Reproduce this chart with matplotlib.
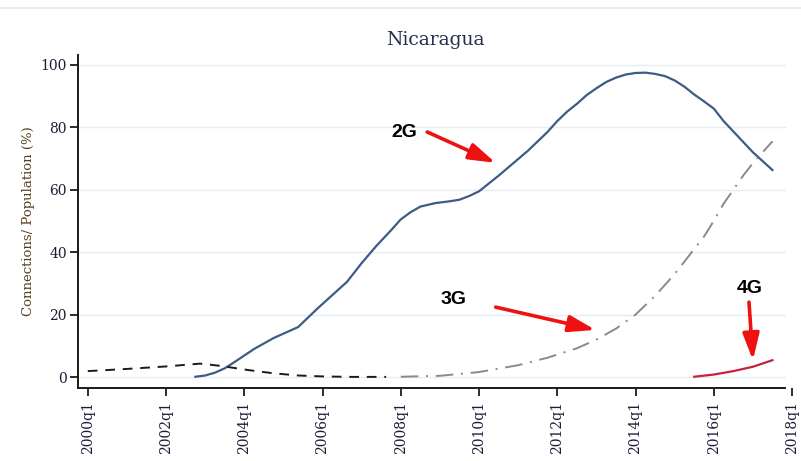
import matplotlib
matplotlib.use("Agg")
import matplotlib.pyplot as plt
import numpy as np

# quarters counted from 2000q1 = 0
q_2g = [11, 12, 13, 14, 15, 17, 19, 21.5, 23.5, 26.5, 28, 29.5, 31, 32, 33, 34, 35.5, 37, 38, 39, 40, 42,
        45, 47, 48, 49, 50, 51, 52, 53, 54, 55, 56, 57, 58, 59, 60, 61, 62, 63, 64, 65, 66.5, 68, 70]
v_2g = [0.1, 0.5, 1.4, 2.8, 4.8, 9, 12.5, 16, 22, 30.5, 36.5, 42, 47, 50.5, 52.8, 54.6, 55.7, 56.3, 56.8, 58, 59.5, 64.5,
        72.5, 78.5, 82, 85, 87.5, 90.3, 92.5, 94.5, 95.9, 96.9, 97.4, 97.5, 97.1, 96.4, 95, 93, 90.5, 88.3, 86, 82, 77, 72, 66.3]

q_old = [0, 4, 8, 11.5, 13.5, 16.5, 19, 21.5, 24, 27, 30.5]
v_old = [1.9, 2.6, 3.4, 4.3, 3.6, 2.2, 1.2, 0.5, 0.2, 0.05, 0.05]

q_3g = [32, 36, 40, 44, 47, 50, 52, 54, 56, 58, 59, 60, 61, 62, 63, 64, 65, 66, 67, 68, 69, 70]
v_3g = [0.1, 0.4, 1.6, 3.8, 6.2, 9.2, 12, 15.5, 20, 26, 29.5, 33, 37, 41, 45, 50,
        55.5, 60, 64.5, 68.5, 72, 75.5]

q_4g = [62, 64, 66, 68, 70]
v_4g = [0.1, 0.8, 1.9, 3.3, 5.4]

tick_q = np.arange(0, 73, 8)
tick_lbl = ["%dq1" % (2000 + t // 4) for t in tick_q]

plt.rcParams["font.family"] = ["DejaVu Serif"]

fig = plt.figure(figsize=(8.01, 4.61), dpi=100)
ax = fig.add_axes([0.0974, 0.1584, 0.8914, 0.7226])

x_end = 71.3
for y in range(0, 101, 20):
    ax.plot([-1, x_end], [y, y], color="#e4edf2", lw=1.0, zorder=0)

ax.plot(q_2g, v_2g, color="#3d5b86", lw=1.6, zorder=3)
ax.plot(q_old, v_old, color="#1a1a1a", lw=1.4, dashes=(5, 4), zorder=3)
ax.plot(q_3g, v_3g, color="#8a8a8a", lw=1.4, dashes=(9, 4, 1, 4), zorder=3)
ax.plot(q_4g, v_4g, color="#c4223f", lw=1.6, zorder=3)

ax.set_xlim(-1, 72)
ax.set_ylim(-3.5, 103.2)
ax.set_yticks(range(0, 101, 20))
ax.set_xticks(tick_q)
ax.set_xticklabels(tick_lbl, rotation=90)
ax.tick_params(axis="both", direction="out", length=6, width=1.3, labelsize=10,
               colors="#1a1a1a", labelcolor="#1c1c3a")
ax.tick_params(axis="y", pad=2)
for s in ["top", "right"]:
    ax.spines[s].set_visible(False)
for s in ["left", "bottom"]:
    ax.spines[s].set_linewidth(1.4)
    ax.spines[s].set_color("#1a1a1a")
ax.spines["bottom"].set_bounds(-1, x_end)

ax.set_title("Nicaragua", fontsize=13.5, color="#22304a", pad=7)
ax.set_ylabel("Connections/ Population (%)", fontsize=9.5, color="#5a4020", labelpad=4)

# labels with red arrows
arrow = dict(arrowstyle="-|>,head_length=0.8,head_width=0.25", color="#ee1111",
             lw=2.6, shrinkA=0, shrinkB=0, mutation_scale=20)
labels = [("2G", (32.4, 78.2), (34.7, 78.5), (41.7, 68.6)),
          ("3G", (37.4, 24.7), (41.7, 22.4), (51.9, 15.1)),
          ("4G", (67.7, 28.5), (67.6, 24.0), (68.0, 5.4))]
for txt, pos, tail, tip in labels:
    ax.text(pos[0], pos[1], txt, family="Liberation Sans", fontweight="bold", fontsize=14,
            ha="center", va="center", color="black", zorder=5)
    ax.annotate("", xy=tip, xytext=tail, arrowprops=arrow, zorder=5)

# thin rule at the top
fig.add_artist(plt.Line2D([0, 1], [0.983, 0.983], transform=fig.transFigure,
                          color="#dde8ea", lw=1.2))

fig.savefig("out.png", dpi=100)
